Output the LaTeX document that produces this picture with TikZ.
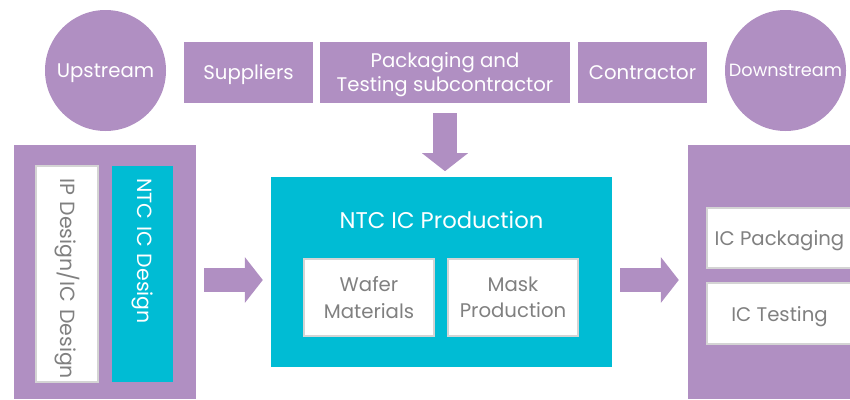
\documentclass[tikz,border=0pt]{standalone}
\usepackage{fontspec}
\setmainfont{Poppins}
\usetikzlibrary{arrows.meta}
\definecolor{purp}{RGB}{176,143,194}
\definecolor{cyanb}{RGB}{0,188,212}
\definecolor{greytxt}{RGB}{128,128,128}
\definecolor{greybd}{RGB}{212,212,212}
\begin{document}
\begin{tikzpicture}[x=1pt,y=-1pt,
  pbox/.style={rectangle, fill=purp, text=white, inner sep=0pt, align=center},
  cbox/.style={rectangle, fill=cyanb, text=white, inner sep=0pt, align=center},
  circ/.style={circle, fill=purp, text=white, minimum size=121pt, inner sep=0pt, text depth=0pt},
  wbox/.style={rectangle, fill=white, draw=greybd, line width=1.3pt, text=greytxt, inner sep=0pt, align=center},
  bigarrow/.style={draw=purp, line width=24pt, -{Triangle[width=45pt,length=18pt]}},
  txt/.style={font=\fontsize{19.7}{24}\selectfont},
  one/.style={text depth=0pt},
  vtxt/.style={font=\fontsize{20.5}{24}\selectfont}]
\useasboundingbox (0,0) rectangle (850,399);
% top row
\node[circ, txt] (up) at (105.5,70.5) {Upstream};
\node[pbox, txt, one, minimum width=129pt, minimum height=61pt] (sup) at (248.5,72.5) {Suppliers};
\node[pbox, txt, one, minimum width=250pt, minimum height=61pt] (pack) at (445,72.5) {Packaging and\\Testing subcontractor};
\node[pbox, txt, one, minimum width=129pt, minimum height=61pt] (con) at (642.5,72.5) {Contractor};
\node[circ, font=\fontsize{17.7}{20}\selectfont] (down) at (785.5,70.5) {Downstream};
% left block
\node[pbox, minimum width=182pt, minimum height=254pt] (left) at (105,272) {};
\node[wbox, vtxt, rotate=-90, minimum width=216pt, minimum height=62pt, text width=192pt, align=left] (ip) at (67,274) {\mbox{IP Design/IC Design}};
\node[cbox, vtxt, rotate=-90, minimum width=216pt, minimum height=61pt, text width=192pt, align=left] (ntcd) at (142.5,274) {\mbox{NTC IC Design}};
% production
\node[cbox, minimum width=341pt, minimum height=190pt] (prod) at (441.5,272) {};
\node[text=white, font=\fontsize{22.7}{26}\selectfont, inner sep=0pt, text depth=0pt] (prodt) at (441.5,220) {NTC IC Production};
\node[wbox, font=\fontsize{19.7}{26.5}\selectfont, minimum width=130pt, minimum height=77pt] (wafer) at (369,297.5) {Wafer\\Materials};
\node[wbox, font=\fontsize{19.7}{26.5}\selectfont, minimum width=130pt, minimum height=77pt] (mask) at (513,297.5) {Mask\\Production};
% right block
\node[pbox, minimum width=172pt, minimum height=254pt] (right) at (774,272) {};
\node[wbox, txt, one, minimum width=145pt, minimum height=60pt] (icp) at (779.5,238) {IC Packaging};
\node[wbox, txt, one, minimum width=145pt, minimum height=61pt] (ict) at (779.5,313.5) {IC Testing};
% arrows
\draw[bigarrow] ([yshift=-10pt]pack.south) -- ([yshift=-68pt]pack.south);
\draw[bigarrow] ([shift={(8,8)}]left.east) -- ([shift={(-8,8)}]prod.west);
\draw[bigarrow] ([shift={(8,8)}]prod.east) -- ([shift={(-9,8)}]right.west);
\end{tikzpicture}
\end{document}
